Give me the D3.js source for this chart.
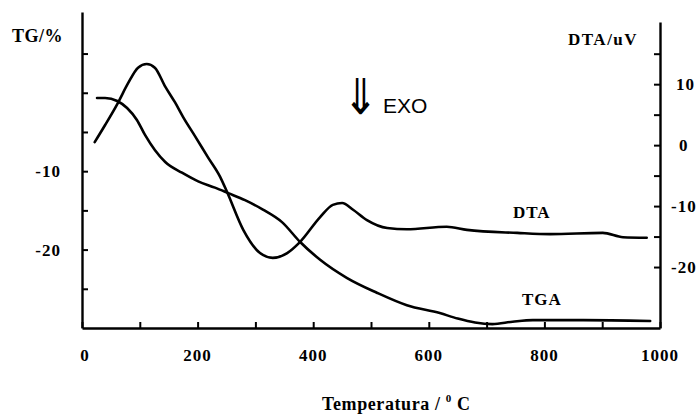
<!DOCTYPE html>
<html>
<head>
<meta charset="utf-8">
<script src="https://cdn.jsdelivr.net/npm/d3@7"></script>
<style>
  html, body { margin: 0; padding: 0; background: #fff; }
  svg { display: block; }
  .serif { font-family: "Liberation Serif", "Times New Roman", serif; font-weight: bold; fill: #000; }
</style>
</head>
<body>
<svg id="chart" width="699" height="417"></svg>
<script>
// Temperature (°C) and thermogravimetric mass change (%)
const tgaTemp = [26, 40, 61, 78, 95, 109, 126, 144, 173, 201, 230, 253, 282, 313, 346, 377, 412, 458, 510, 562, 619, 650, 680, 710, 745, 780, 867, 983];
const tgaMass = [-0.66, -0.66, -1.05, -1.94, -3.47, -5.38, -7.3, -8.83, -10.2, -11.3, -12.1, -12.8, -13.7, -14.9, -16.5, -19.0, -21.3, -23.6, -25.5, -27.1, -28.1, -28.8, -29.3, -29.5, -29.2, -29.0, -29.0, -29.1];

// Temperature (°C) and differential thermal signal (uV)
const dtaTemp = [22, 40, 62, 80, 97, 112, 126, 144, 161, 175, 196, 218, 239, 251, 279, 308, 330, 355, 377, 412, 434, 450, 469, 493, 528, 562, 631, 666, 753, 810, 901, 936, 977];
const dtaSignal = [0.5, 3.3, 6.9, 10.2, 12.7, 13.3, 12.7, 9.6, 7.0, 4.6, 1.4, -2.0, -5.2, -7.7, -13.9, -17.7, -18.5, -17.7, -15.9, -11.8, -9.8, -9.5, -10.6, -12.3, -13.6, -13.8, -13.4, -13.9, -14.4, -14.6, -14.4, -15.1, -15.2];

// Axis ticks and labels
const xTicks = [0, 100, 200, 300, 400, 500, 600, 700, 800, 900, 1000];
const xLabels = [0, 200, 400, 600, 800, 1000];
const tgTicks = [-25, -20, -15, -10, -5, 0, 5];
const tgLabels = [-10, -20];
const dtaTicks = [-20, -15, -10, -5, 0, 5, 10, 15];
const dtaLabels = [10, 0, -10, -20];

const svg = d3.select("#chart");
const left = 82, right = 660, bottom = 328;

const x = d3.scaleLinear().domain([0, 1000]).range([left, right]);
const yTG = d3.scaleLinear().domain([-30, 10.3]).range([bottom, 12]);
const yDTA = d3.scaleLinear().domain([-30, 20.2]).range([bottom, 22]);

const axisStroke = 2.4;

// bottom axis: inward ticks, labels underneath
const gx = svg.append("g").attr("transform", `translate(0,${bottom})`)
  .call(d3.axisTop(x).tickValues(xTicks).tickSize(6).tickSizeOuter(0).tickFormat(""));
svg.append("g").selectAll("text").data(xLabels).join("text")
  .attr("class", "serif")
  .attr("x", d => x(d) + (d === 0 ? 3 : 0))
  .attr("y", 361)
  .attr("text-anchor", "middle")
  .attr("font-size", 17)
  .attr("letter-spacing", 1)
  .text(d => d);

// left TG axis
const gl = svg.append("g").attr("transform", `translate(${left},0)`)
  .call(d3.axisRight(yTG).tickValues(tgTicks).tickSize(6).tickSizeOuter(0).tickFormat(""));
svg.append("g").selectAll("text").data(tgLabels).join("text")
  .attr("class", "serif")
  .attr("x", 61)
  .attr("y", d => yTG(d) + 6)
  .attr("text-anchor", "end")
  .attr("font-size", 17)
  .attr("letter-spacing", 1)
  .text(d => d);

// right DTA axis
const gr = svg.append("g").attr("transform", `translate(${right},0)`)
  .call(d3.axisLeft(yDTA).tickValues(dtaTicks).tickSize(6).tickSizeOuter(0).tickFormat(""));
svg.append("g").selectAll("text").data(dtaLabels).join("text")
  .attr("class", "serif")
  .attr("x", d => d === 0 ? 679 : (d > 0 ? 676 : 671))
  .attr("y", d => yDTA(d) + 6)
  .attr("text-anchor", "start")
  .attr("font-size", 17)
  .attr("letter-spacing", 1)
  .text(d => d);

[gx, gl, gr].forEach(g => {
  g.select(".domain").attr("stroke", "#000").attr("stroke-width", axisStroke);
  g.selectAll(".tick line").attr("stroke", "#000").attr("stroke-width", 2);
});

// curves
const tgLine = d3.line().x(d => x(d[0])).y(d => yTG(d[1])).curve(d3.curveMonotoneX);
const dtaLine = d3.line().x(d => x(d[0])).y(d => yDTA(d[1])).curve(d3.curveMonotoneX);

svg.append("path")
  .datum(d3.zip(tgaTemp, tgaMass))
  .attr("d", tgLine)
  .attr("fill", "none").attr("stroke", "#000").attr("stroke-width", 2.6)
  .attr("stroke-linejoin", "round").attr("stroke-linecap", "round");

svg.append("path")
  .datum(d3.zip(dtaTemp, dtaSignal))
  .attr("d", dtaLine)
  .attr("fill", "none").attr("stroke", "#000").attr("stroke-width", 2.6)
  .attr("stroke-linejoin", "round").attr("stroke-linecap", "round");

// axis titles and curve labels
svg.append("text").attr("class", "serif")
  .attr("x", 12).attr("y", 42).attr("font-size", 18).attr("letter-spacing", 0.5)
  .text("TG/%");
svg.append("text").attr("class", "serif")
  .attr("x", 568).attr("y", 45).attr("font-size", 17).attr("letter-spacing", 1.5)
  .text("DTA/uV");
svg.append("text").attr("class", "serif")
  .attr("x", 513).attr("y", 218).attr("font-size", 17).attr("letter-spacing", 1)
  .text("DTA");
svg.append("text").attr("class", "serif")
  .attr("x", 522).attr("y", 305).attr("font-size", 17).attr("letter-spacing", 1)
  .text("TGA");

const title = svg.append("text").attr("class", "serif")
  .attr("x", 322).attr("y", 410).attr("font-size", 18).attr("letter-spacing", 0.6);
title.append("tspan").text("Temperatura / ");
title.append("tspan").attr("font-size", 11).attr("dy", -8).text("0");
title.append("tspan").attr("dy", 8).text(" C");

// exothermic direction marker
svg.append("text")
  .attr("transform", "translate(343,114) scale(1.4,1.65)")
  .attr("font-family", "DejaVu Sans, sans-serif")
  .attr("font-size", 30)
  .attr("fill", "#000")
  .text("⇓");
svg.append("text")
  .attr("x", 383).attr("y", 113)
  .attr("font-family", "Liberation Sans, Arial, sans-serif")
  .attr("font-size", 21)
  .attr("fill", "#000")
  .text("EXO");
</script>
</body>
</html>
